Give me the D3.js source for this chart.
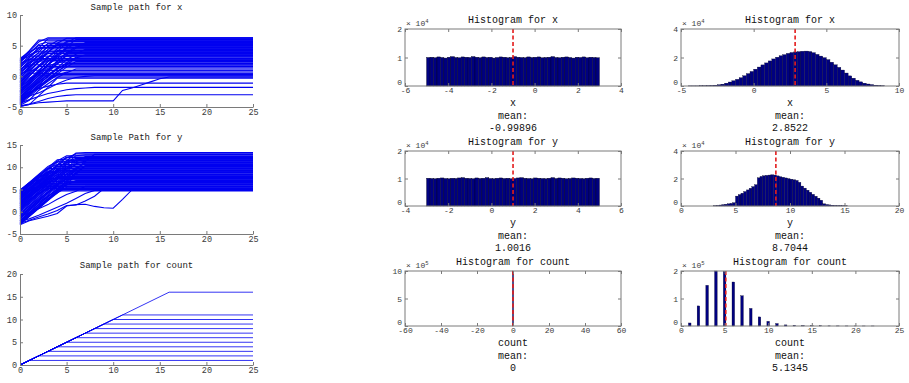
<!DOCTYPE html>
<html><head><meta charset="utf-8">
<script src="https://cdn.jsdelivr.net/npm/d3@7"></script>
<style>body{margin:0;background:#fff}svg{display:block}</style>
</head><body><svg id="c" width="909" height="383"></svg>
<script>
// ---------------- DATA ----------------
const tEnd = 25;
// sample paths for x (value at t = 0,1,2,...; held until tEnd)
const xPaths = [
 [-4.9,-4.6,-3.2,-1.8,-0.3],[-3.8,-2.5,-1.1,-0.1],[-2.0,-1.2,0.1],[-4.5,-3.0,-1.5,-0.6,0.3],
 [-1.0,0.5],[-4.2,-2.8,-1.9,-0.8,0.2,0.7],[-3.3,-2.1,-0.7,0.9],[0.4,1.0],
 [-4.7,-3.9,-2.3,-1.2,-0.2,0.6,1.2],[-2.6,-1.3,0.1,1.4],[-0.5,0.6,1.6],[-4.0,-2.9,-1.7,-0.4,0.8,1.8],
 [1.2,1.9],[-3.6,-2.2,-0.9,0.3,1.2,2.1],[-1.8,-0.6,0.7,1.6,2.3],[-4.4,-3.1,-1.8,-0.5,0.4,1.5,2.4],
 [0.8,1.7,2.5],[-2.9,-1.6,-0.2,1.0,2.1,2.7],[2.1,2.8],[-1.4,0.1,1.5,2.9],
 [-3.9,-2.7,-1.4,0.0,1.2,2.2,3.1],[-0.2,1.1,2.3,3.2],[2.6,3.3],[-4.6,-3.3,-2.0,-0.6,0.7,1.9,3.0,3.5],
 [-2.3,-0.8,0.6,1.9,3.0,3.6],[1.5,2.7,3.8],[-3.1,-1.7,-0.3,1.1,2.4,3.9],[0.1,1.4,2.7,4.0],
 [2.8,3.5,4.1],[-1.1,0.4,1.8,3.1,4.2],[-4.3,-2.9,-1.4,0.0,1.4,2.7,3.6,4.4],[-2.0,-0.5,1.0,2.4,3.6,4.5],
 [1.9,3.3,4.6],[-3.4,-1.9,-0.4,1.1,2.5,3.8,4.8],[0.6,2.0,3.4,4.9],[2.4,3.7,5.0],
 [-0.7,0.9,2.4,3.9,5.1],[-2.7,-1.1,0.5,2.0,3.5,4.6,5.3],[1.0,2.5,3.9,5.4],[-4.1,-2.5,-0.9,0.6,2.1,3.5,4.6,5.5],
 [2.2,3.8,5.2,5.6],[-1.6,0.0,1.6,3.1,4.5,5.7],[0.3,1.9,3.4,4.9,5.8],[2.7,4.2,5.9],
 [-3.0,-1.4,0.2,1.8,3.3,4.8,6.0],[1.4,3.0,4.6,6.1],[-0.9,0.7,2.3,3.9,5.4,6.2],[2.5,4.1,5.6,6.3],
 [-2.4,-0.8,0.8,2.4,4.0,5.5,6.3],[-0.4,1.3,2.9,4.4,5.2],[1.7,3.1,4.3,5.3],[-2.5,-1.0,0.4,1.9,3.2,4.3],
 [0.0,1.6,3.0,3.7],[-3.5,-2.0,-0.6,0.9,2.0,3.4],[2.9,4.0,4.7],[-1.3,0.2,1.5,2.6],
 [-3.7,-2.4,-1.0,0.2,1.3,2.0],[0.9,2.2,2.9],[-1.7,-0.3,0.4],[1.1,2.3,3.4,4.3],
 [-4.9,-4.6,-4.3,-4.2,-4.1,-4.0,-4.0,-4.0,-4.0,-4.0,-4.0,-2.3,-1.9,-1.4,-0.9,-0.4,-0.1],
 [-4.4,-3.8,-3.3,-2.8,-2.5,-2.2,-2.0,-1.9,-1.8],[-4.8,-4.5,-4.1,-3.6,-3.3,-3.1,-3.0],
 [-3.2,-2.6,-2.0,-1.6,-1.3,-1.1],[-4.0,-3.2,-2.7,-2.0,-1.2,-0.6,-0.2,0.0,0.1]
];
// sample paths for y
const yPaths = [
 [-2.8,-1.0,0.8,2.6,4.7],[3.2,4.9],[-1.5,0.3,2.1,3.5,5.0],[1.0,2.8,4.0,5.2],[4.1,5.4],
 [-2.2,-0.5,1.2,2.9,4.2,5.5],[2.3,3.9,5.7],[-0.6,1.2,2.9,4.5,5.8],[3.8,6.0],[-2.9,-1.1,0.7,2.5,4.2,6.1],
 [1.7,3.5,5.0,6.3],[4.6,6.4],[-1.9,-0.1,1.7,3.5,5.0,6.6],[0.5,2.3,4.1,5.5,6.7],[2.9,4.7,6.9],
 [-2.5,-0.7,1.1,2.9,4.7,6.0,7.0],[4.9,6.5,7.2],[-0.3,1.5,3.3,5.1,6.3,7.3],[2.0,3.8,5.6,7.5],
 [-1.2,0.6,2.4,4.2,6.0,7.6],[3.5,5.3,7.1,7.8],[0.9,2.7,4.5,6.3,7.9],[-2.7,-0.9,0.9,2.7,4.5,6.3,8.1],
 [4.4,6.2,8.2],[1.4,3.2,5.0,6.8,8.4],[-0.9,0.9,2.7,4.5,6.3,8.5],[2.6,4.4,6.2,8.0,8.7],
 [-2.0,-0.2,1.6,3.4,5.2,7.0,8.8],[4.0,5.8,7.6,9.0],[0.2,2.0,3.8,5.6,7.4,9.1],[3.0,4.8,6.6,8.4,9.3],
 [-1.6,0.2,2.0,3.8,5.6,7.4,9.4],[1.9,3.7,5.5,7.3,9.1,9.6],[4.7,6.5,8.3,9.7],[-0.5,1.3,3.1,4.9,6.7,8.5,9.9],
 [2.3,4.1,5.9,7.7,9.5,10.0],[3.6,5.4,7.2,9.0,10.2],[-2.4,-0.6,1.2,3.0,4.8,6.6,8.4,10.3],
 [0.7,2.5,4.3,6.1,7.9,9.7,10.5],[4.3,6.1,7.9,9.7,10.6],[1.2,3.0,4.8,6.6,8.4,10.2,10.8],
 [-1.0,0.8,2.6,4.4,6.2,8.0,9.8,10.9],[2.8,4.6,6.4,8.2,10.0,11.1],[4.8,6.6,8.4,10.2,11.2],
 [0.0,1.8,3.6,5.4,7.2,9.0,10.8,11.4],[3.3,5.1,6.9,8.7,10.5,11.5],[1.6,3.4,5.2,7.0,8.8,10.6,11.7],
 [4.5,6.3,8.1,9.9,11.7,11.8],[2.1,3.9,5.7,7.5,9.3,11.1,12.0],[3.9,5.7,7.5,9.3,11.1,12.2],
 [0.4,2.2,4.0,5.8,7.6,9.4,11.2,12.4],[4.2,6.0,7.8,9.6,11.4,12.6],[1.8,3.6,5.4,7.2,9.0,10.8,12.6,12.8],
 [3.1,4.9,6.7,8.5,10.3,12.1,13.0],[2.4,4.2,6.0,7.8,9.6,11.4,13.2,13.3],
 [-1.3,0.5,2.3,4.1,5.9,7.7,9.5,11.3,12.9],[3.4,5.2,7.0,8.8,10.6,12.3],[0.8,2.6,4.4,6.2,8.0,9.8,11.6],
 [-2.1,-0.3,1.5,3.3,5.1,6.9,8.7,10.4],[4.0,5.8,7.6,8.9],[1.3,3.1,4.9,6.5,7.7],[2.7,4.5,5.9,6.8],
 [-2.9,-2.0,-1.5,-1.0,-0.4,1.3,1.6,1.7,1.2,0.9,0.8,2.8,4.9],
 [-1.0,-0.2,0.7,1.6,2.8,3.9,4.6,5.7],[-2.0,-1.6,-0.8,0.1,1.0,1.9,3.0,4.1,4.8],
 [-2.6,-1.9,-1.2,-0.5,0.3,1.4,1.5,2.4,3.5,5.2]
];
// final counts of the sample paths for count
const countFinals = [1,2,3,4,5,6,7,8,9,10,11,16];

// histograms (heights in units of the axis multiplier)
const histXUniform = {start:-5, width:0.16, exp:4, mean:-0.99896, label:"x", values:[
 1.00,1.01,0.99,1.02,1.00,0.98,1.01,1.03,1.00,0.99,1.02,1.01,1.00,1.03,1.01,0.99,1.02,1.00,1.01,0.98,
 1.00,1.02,1.01,0.99,1.00,1.03,1.01,1.00,0.99,1.02,1.00,1.01,1.02,0.99,1.00,1.01,1.03,1.00,0.99,1.01,
 1.02,1.00,0.98,1.01,1.00,1.02,0.99,1.01,1.00,0.99]};
const histYUniform = {start:-3, width:0.16, exp:4, mean:1.0016, label:"y", values:[
 1.01,1.00,0.99,1.01,1.02,1.00,0.99,1.01,1.00,1.02,1.03,1.01,1.00,0.99,1.02,1.00,1.01,1.03,1.00,0.99,
 1.01,1.02,1.00,1.01,0.99,1.00,1.02,1.03,1.01,1.00,0.99,1.02,1.01,1.00,0.99,1.01,1.03,1.00,1.02,1.01,
 0.99,1.00,1.02,1.01,1.00,0.99,1.01,1.02,1.00,1.01]};
const histCountZero = {start:-0.3, width:0.6, exp:5, mean:0, label:"count", values:[10.0]};
const histXFinal = {start:-4.5, width:0.25, exp:4, mean:2.8522, label:"x", values:[
 0.01,0.01,0.01,0.02,0.02,0.03,0.04,0.06,0.09,0.13,0.20,0.28,0.37,0.47,0.58,0.72,0.87,1.02,
 1.18,1.33,1.48,1.62,1.76,1.90,2.02,2.12,2.20,2.29,2.35,2.39,2.41,2.44,2.45,2.42,2.34,2.22,
 2.10,1.99,1.85,1.67,1.49,1.31,1.12,0.91,0.71,0.55,0.40,0.29,0.20,0.14,0.10,0.06,0.04,0.02]};
const histYFinal = {start:3.0, width:0.25, exp:4, mean:8.7044, label:"y", values:[
 0.02,0.04,0.07,0.10,0.13,0.16,0.19,0.24,0.72,0.83,0.93,1.05,1.17,1.29,1.41,1.55,2.05,2.15,
 2.20,2.23,2.25,2.27,2.25,2.19,2.13,2.09,2.04,1.99,1.95,1.91,1.86,1.72,1.45,1.30,1.15,1.00,
 0.85,0.71,0.57,0.42,0.16,0.11,0.08,0.06,0.04,0.03,0.03,0.02,0.02]};
const countCategories = [1,2,3,4,5,6,7,8,9,10,11,12,13,14,15,16,17,18,19,20,21,22];
const countFreq = [0.11,0.73,1.48,2.00,1.98,1.60,1.10,0.64,0.33,0.17,0.09,0.04,0.02,0.012,0.008,0.006,0.005,0.004,0.003,0.003,0.002,0.002];
const histCountFinal = {exp:5, mean:5.1345, label:"count"};

// ---------------- DRAWING ----------------
const svg = d3.select('#c');
const FONT = '"Liberation Mono", "DejaVu Sans Mono", monospace';
const AXC = '#7a7a7a', TXC = '#3a3a3a';
const fmt = d => String(d);

function styleAxis(g, size){
  g.attr('font-family', FONT).attr('font-size', size);
  g.selectAll('.tick line').attr('stroke', AXC);
  g.selectAll('.tick text').attr('fill', TXC);
}

function pathPlot(c){
  const x = d3.scaleLinear().domain(c.xd).range([c.l, c.r]);
  const y = d3.scaleLinear().domain(c.yd).range([c.b, c.t]);
  const line = d3.line().x(d => x(d[0])).y(d => y(d[1]));
  svg.append('g').selectAll('path').data(c.paths).join('path')
    .attr('d', line).attr('fill', 'none').attr('stroke', '#0000f0').attr('stroke-width', c.sw);
  const gx = svg.append('g').attr('transform', `translate(0,${c.b})`)
    .call(d3.axisBottom(x).tickValues(c.xt).tickFormat(fmt).tickSizeInner(-3).tickSizeOuter(0).tickPadding(2));
  gx.select('.domain').attr('stroke', AXC);
  styleAxis(gx, 8.5);
  const gy = svg.append('g').attr('transform', `translate(${c.l},0)`)
    .call(d3.axisLeft(y).tickValues(c.yt).tickFormat(fmt).tickSizeInner(-3).tickSizeOuter(0).tickPadding(3));
  gy.select('.domain').attr('stroke', AXC);
  styleAxis(gy, 8.5);
  svg.append('text').attr('x', (c.l + c.r) / 2).attr('y', c.ty).attr('text-anchor', 'middle')
    .attr('font-family', FONT).attr('font-size', 9).attr('fill', '#222').text(c.title);
}

const toPts = vals => vals.map((v, i) => [i, v]).concat([[tEnd, vals[vals.length - 1]]]);
const L = 20, R = 253;
pathPlot({l:L, r:R, t:15, b:107, xd:[0,25], yd:[-5,10], xt:[0,5,10,15,20,25], yt:[-5,0,5,10], sw:1.1,
  paths: xPaths.map(toPts), title:'Sample path for x', ty:10});
pathPlot({l:L, r:R, t:145, b:234, xd:[0,25], yd:[-5,15], xt:[0,5,10,15,20,25], yt:[-5,0,5,10,15], sw:1.1,
  paths: yPaths.map(toPts), title:'Sample Path for y', ty:140});
pathPlot({l:L, r:R, t:274, b:365, xd:[0,25], yd:[0,20], xt:[0,5,10,15,20,25], yt:[0,5,10,15,20], sw:0.8,
  paths: countFinals.map(f => [[0,0],[f,f],[tEnd,f]]), title:'Sample path for count', ty:268});

function histPlot(c){
  const x = d3.scaleLinear().domain(c.xd).range([c.l, c.r]);
  const y = d3.scaleLinear().domain(c.yd).range([c.b, c.t]);
  const g = svg.append('g');
  g.selectAll('rect').data(c.bars).join('rect')
    .attr('x', d => x(d.x0)).attr('width', d => Math.max(0.8, x(d.x1) - x(d.x0)))
    .attr('y', d => y(d.v)).attr('height', d => y(0) - y(d.v))
    .attr('fill', '#000080').attr('stroke', '#000020').attr('stroke-width', c.edge);
  g.append('line').attr('x1', x(c.mean)).attr('x2', x(c.mean)).attr('y1', c.t).attr('y2', c.b)
    .attr('stroke', '#e41c1c').attr('stroke-width', 1.6).attr('stroke-dasharray', '4,2.5');
  const mk = (axis, tr, labels) => {
    const a = svg.append('g').attr('transform', tr).call(axis);
    a.select('.domain').remove();
    styleAxis(a, 8);
    if (!labels) a.selectAll('.tick text').remove();
    return a;
  };
  mk(d3.axisBottom(x).tickValues(c.xt).tickFormat(fmt).tickSizeInner(-3).tickSizeOuter(0).tickPadding(1), `translate(0,${c.b})`, true);
  mk(d3.axisTop(x).tickValues(c.xt).tickSizeInner(-3).tickSizeOuter(0), `translate(0,${c.t})`, false);
  const ay = mk(d3.axisLeft(y).tickValues(c.yt).tickFormat(fmt).tickSizeInner(-3).tickSizeOuter(0).tickPadding(3), `translate(${c.l},0)`, true);
  ay.selectAll('.tick text').filter(d => d === c.yd[0]).attr('dy', '-0.15em');
  mk(d3.axisRight(y).tickValues(c.yt).tickSizeInner(-3).tickSizeOuter(0), `translate(${c.r},0)`, false);
  svg.append('rect').attr('x', c.l).attr('y', c.t).attr('width', c.r - c.l).attr('height', c.b - c.t)
    .attr('fill', 'none').attr('stroke', AXC).attr('stroke-width', 1);
  const e = svg.append('text').attr('x', c.l + 1).attr('y', c.t - 3).attr('font-family', FONT)
    .attr('font-size', 8).attr('fill', TXC);
  e.append('tspan').text('\u00d7 10');
  e.append('tspan').attr('dy', -3).attr('font-size', 5.5).text(c.exp);
  const cx = (c.l + c.r) / 2;
  const txt = (yy, s) => svg.append('text').attr('x', cx).attr('y', yy).attr('text-anchor', 'middle')
    .attr('font-family', FONT).attr('font-size', 10).attr('fill', '#111').text(s);
  txt(c.t - 6, 'Histogram for ' + c.label);
  txt(c.b + 20, c.label);
  txt(c.b + 33, 'mean:');
  txt(c.b + 45, fmt(c.mean));
}

const binBars = h => h.values.map((v, i) => ({x0: h.start + i * h.width, x1: h.start + (i + 1) * h.width, v}));
const rows = [[29, 86], [151, 206], [271, 326]];
const MID = [405, 621], RIGHT = [681, 899];

histPlot({l:MID[0], r:MID[1], t:rows[0][0], b:rows[0][1], xd:[-6,4], yd:[0,2], xt:[-6,-4,-2,0,2,4], yt:[0,1,2],
  bars: binBars(histXUniform), edge:0.4, ...histXUniform});
histPlot({l:MID[0], r:MID[1], t:rows[1][0], b:rows[1][1], xd:[-4,6], yd:[0,2], xt:[-4,-2,0,2,4,6], yt:[0,1,2],
  bars: binBars(histYUniform), edge:0.4, ...histYUniform});
histPlot({l:MID[0], r:MID[1], t:rows[2][0], b:rows[2][1], xd:[-60,60], yd:[0,10], xt:[-60,-40,-20,0,20,40,60], yt:[0,5,10],
  bars: binBars(histCountZero), edge:0.3, ...histCountZero});
histPlot({l:RIGHT[0], r:RIGHT[1], t:rows[0][0], b:rows[0][1], xd:[-5,10], yd:[0,4], xt:[-5,0,5,10], yt:[0,2,4],
  bars: binBars(histXFinal), edge:0.3, ...histXFinal});
histPlot({l:RIGHT[0], r:RIGHT[1], t:rows[1][0], b:rows[1][1], xd:[0,20], yd:[0,4], xt:[0,5,10,15,20], yt:[0,2,4],
  bars: binBars(histYFinal), edge:0.3, ...histYFinal});
histPlot({l:RIGHT[0], r:RIGHT[1], t:rows[2][0], b:rows[2][1], xd:[0,25], yd:[0,2], xt:[0,5,10,15,20,25], yt:[0,1,2],
  bars: countCategories.map((k, i) => ({x0: k - 0.15, x1: k + 0.15, v: countFreq[i]})), edge:0.3, ...histCountFinal});
</script>
</body></html>
